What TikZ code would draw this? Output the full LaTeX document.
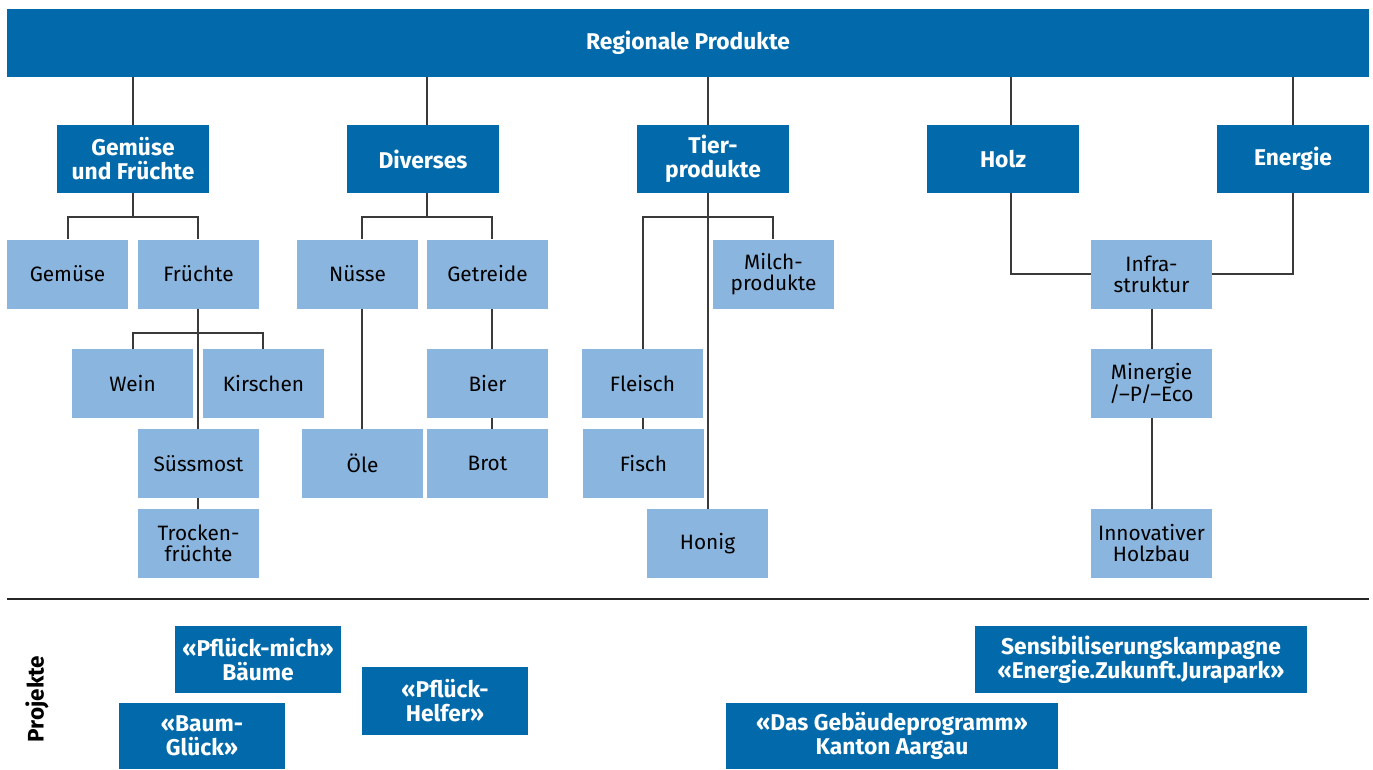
\documentclass[tikz,border=0pt]{standalone}
\usepackage{fontspec}
\setmainfont{Fira Sans}
\definecolor{dblue}{RGB}{2,106,170}
\definecolor{lblue}{RGB}{138,181,222}
\definecolor{lgray}{RGB}{58,58,58}
\begin{document}
\begin{tikzpicture}[x=1pt,y=-1pt,
  dbox/.style={fill=dblue,text=white,inner sep=0pt,align=center,font=\fontsize{22.8}{24}\selectfont\bfseries},
  lbox/.style={fill=lblue,text=black,inner sep=0pt,align=center,minimum width=121pt,minimum height=69pt,font=\fontsize{20.8}{21}\selectfont},
  cat/.style={dbox,minimum width=152pt,minimum height=68pt},
  proj/.style={dbox,minimum width=166pt,minimum height=67pt},
  wproj/.style={dbox,minimum width=332pt,minimum height=67pt},
  conn/.style={draw=lgray,line width=1.3pt}]
\useasboundingbox (0,0) rectangle (1373,769);
% top bar
\node[dbox,minimum width=1362pt,minimum height=68pt] (top) at (688,43) {Regionale Produkte};
% categories
\node[cat] (gf) at (133,159) {Gemüse\\und Früchte};
\node[cat] (div) at (423,159) {Diverses};
\node[cat] (tier) at (713,159) {Tier-\\produkte};
\node[cat] (holz) at (1003,159) {Holz};
\node[cat] (energie) at (1293,159) {Energie};
% level 2
\node[lbox] (gem) at (67.5,274) {Gemüse};
\node[lbox] (fru) at (198.5,274) {Früchte};
\node[lbox] (nus) at (357.5,274) {Nüsse};
\node[lbox] (get) at (487.5,274) {Getreide};
\node[lbox] (milch) at (773.5,274) {Milch-\\produkte};
\node[lbox] (infra) at (1151.5,274) {Infra-\\struktur};
% level 3
\node[lbox] (wein) at (132.5,383.5) {Wein};
\node[lbox] (kir) at (263.5,383.5) {Kirschen};
\node[lbox] (bier) at (487.5,383.5) {Bier};
\node[lbox] (fleisch) at (642.5,383.5) {Fleisch};
\node[lbox] (minergie) at (1151.5,383.5) {Minergie\\/--P/--Eco};
% level 4
\node[lbox] (suess) at (198.5,463.5) {Süssmost};
\node[lbox] (oele) at (362.5,463.5) {Öle};
\node[lbox] (brot) at (487.5,463.5) {Brot};
\node[lbox] (fisch) at (643.5,463.5) {Fisch};
% level 5
\node[lbox] (trocken) at (198.5,543.5) {Trocken-\\früchte};
\node[lbox] (honig) at (707.5,543.5) {Honig};
\node[lbox] (innov) at (1151.5,543.5) {Innovativer\\Holzbau};
% trunk x coordinates
\coordinate (xgf) at (133,0);
\coordinate (xdiv) at (427,0);
\coordinate (xtier) at (708,0);
\coordinate (xholz) at (1011,0);
\coordinate (xen) at (1293,0);
\coordinate (xgem) at (68,0);
\coordinate (xfru) at (198,0);
\coordinate (xnus) at (362,0);
\coordinate (xget) at (492,0);
\coordinate (xwein) at (133,0);
\coordinate (xkir) at (263,0);
\coordinate (xfle) at (643,0);
\coordinate (xmil) at (773,0);
\coordinate (xinf) at (1152,0);
\coordinate (y2) at (0,217);
\coordinate (y3) at (0,333);
% top connectors
\foreach \xc/\n in {xgf/gf,xdiv/div,xtier/tier,xholz/holz,xen/energie}
  \draw[conn] (top.south -| \xc) -- (\n.north -| \xc);
% Gemuese und Fruechte
\draw[conn] (gf.south -| xgf) -- (y2 -| xgf);
\draw[conn] (gem.north -| xgem) -- (y2 -| xgem) -- (y2 -| xfru) -- (fru.north -| xfru);
\draw[conn] (fru.south -| xfru) -- (suess.north -| xfru);
\draw[conn] (wein.north -| xwein) -- (y3 -| xwein) -- (y3 -| xkir) -- (kir.north -| xkir);
\draw[conn] (suess.south -| xfru) -- (trocken.north -| xfru);
% Diverses
\draw[conn] (div.south -| xdiv) -- (y2 -| xdiv);
\draw[conn] (nus.north -| xnus) -- (y2 -| xnus) -- (y2 -| xget) -- (get.north -| xget);
\draw[conn] (nus.south -| xnus) -- (oele.north -| xnus);
\draw[conn] (get.south -| xget) -- (bier.north -| xget);
\draw[conn] (bier.south -| xget) -- (brot.north -| xget);
% Tierprodukte
\draw[conn] (tier.south -| xtier) -- (honig.north -| xtier);
\draw[conn] (fleisch.north -| xfle) -- (y2 -| xfle) -- (y2 -| xmil) -- (milch.north -| xmil);
\draw[conn] (fleisch.south -| xfle) -- (fisch.north -| xfle);
% Holz / Energie
\draw[conn] (holz.south -| xholz) -- (infra.west -| xholz) -- (infra.west);
\draw[conn] (energie.south -| xen) -- (infra.east -| xen) -- (infra.east);
\draw[conn] (infra.south -| xinf) -- (minergie.north -| xinf);
\draw[conn] (minergie.south -| xinf) -- (innov.north -| xinf);
% separator
\coordinate (sepl) at (7,599);
\coordinate (sepr) at (1369,599);
\draw[line width=1.5pt,draw=black!85] (sepl) -- (sepr);
% projects
\node[rotate=90,font=\fontsize{22.5}{24}\selectfont\bfseries] (projekte) at (37,699) {Projekte};
\node[proj] (pm) at (258,659.5) {«Pflück-mich»\\Bäume};
\node[proj,minimum height=66pt] (bg) at (202,736) {«Baum-\\Glück»};
\node[proj,minimum height=68pt] (ph) at (445,701) {«Pflück-\\Helfer»};
\node[wproj] (sens) at (1141,659.5) {Sensibiliserungskampagne\\«Energie.Zukunft.Jurapark»};
\node[wproj,minimum height=66pt] (geb) at (892,736) {«Das Gebäudeprogramm»\\Kanton Aargau};
\end{tikzpicture}
\end{document}
